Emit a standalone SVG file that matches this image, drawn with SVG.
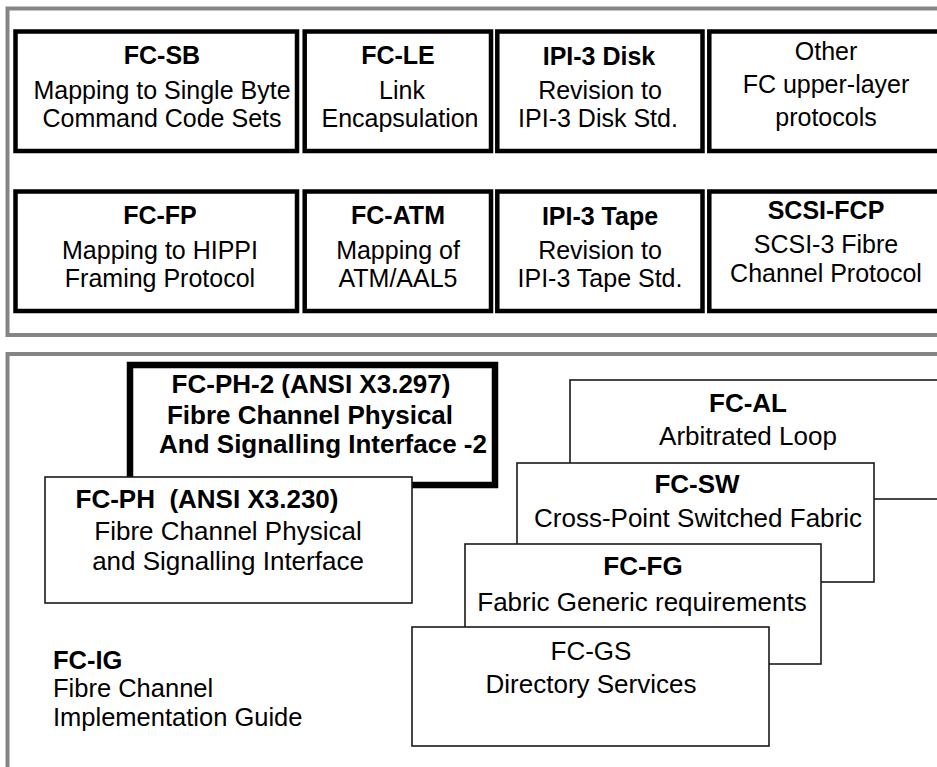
<svg xmlns="http://www.w3.org/2000/svg" width="937" height="767" viewBox="0 0 937 767">
<style>
text{font-family:"Liberation Sans",Arial,Helvetica,sans-serif;fill:#000;text-anchor:middle}
.t{font-size:25px}
.b{font-weight:bold}
.s{font-size:26px}
.g{font-size:25.5px}
.l{text-anchor:start}
.panel{fill:none;stroke:#858585;stroke-width:4}
.thick{fill:#fff;stroke:#000;stroke-width:4.5}
.thin{fill:#fff;stroke:#1a1a1a;stroke-width:1.6}
.heavy{fill:#fff;stroke:#000;stroke-width:6.5}
</style>
<rect width="937" height="767" fill="#fff"/>
<g id="upper-panel">
<rect class="panel" x="7.5" y="8.5" width="940" height="326.5"/>
</g>
<g id="lower-panel">
<rect class="panel" x="7.5" y="354" width="940" height="430"/>
</g>
<g id="fc-sb">
<rect class="thick" x="15.5" y="31.5" width="281.5" height="119.5"/>
<text class="t b" x="162" y="64">FC-SB</text>
<text class="t" x="162" y="98.5">Mapping to Single Byte</text>
<text class="t" x="162" y="126.6">Command Code Sets</text>
</g>
<g id="fc-le">
<rect class="thick" x="304.7" y="31.5" width="186.3" height="119.5"/>
<text class="t b" x="398" y="64">FC-LE</text>
<text class="t" x="402" y="98.5">Link</text>
<text class="t" x="400" y="126.6">Encapsulation</text>
</g>
<g id="ipi3-disk">
<rect class="thick" x="497.3" y="31.5" width="205.2" height="119.5"/>
<text class="t b" x="599" y="64.5">IPI-3 Disk</text>
<text class="t" x="600" y="98.5">Revision to</text>
<text class="t" x="598" y="126.6">IPI-3 Disk Std.</text>
</g>
<g id="other">
<rect class="thick" x="709.3" y="31.5" width="240" height="119.5"/>
<text class="t" x="826" y="60">Other</text>
<text class="t" x="826" y="93">FC upper-layer</text>
<text class="t" x="826" y="126">protocols</text>
</g>
<g id="fc-fp">
<rect class="thick" x="15.5" y="191.5" width="281.5" height="119.5"/>
<text class="t b" x="160" y="224">FC-FP</text>
<text class="t" x="160" y="258.5">Mapping to HIPPI</text>
<text class="t" x="160" y="286.6">Framing Protocol</text>
</g>
<g id="fc-atm">
<rect class="thick" x="304.7" y="191.5" width="186.3" height="119.5"/>
<text class="t b" x="398" y="224">FC-ATM</text>
<text class="t" x="398" y="258.5">Mapping of</text>
<text class="t" x="398" y="286.6">ATM/AAL5</text>
</g>
<g id="ipi3-tape">
<rect class="thick" x="497.3" y="191.5" width="205.2" height="119.5"/>
<text class="t b" x="600" y="224.5">IPI-3 Tape</text>
<text class="t" x="600" y="258.5">Revision to</text>
<text class="t" x="600" y="286.6">IPI-3 Tape Std.</text>
</g>
<g id="scsi-fcp">
<rect class="thick" x="709.3" y="191.5" width="240" height="119.5"/>
<text class="t b" x="826" y="219">SCSI-FCP</text>
<text class="t" x="826" y="253">SCSI-3 Fibre</text>
<text class="t" x="826" y="282">Channel Protocol</text>
</g>
<g id="fc-ph-2">
<rect class="heavy" x="130" y="365" width="365" height="120"/>
<text class="s b" x="311" y="392.5">FC-PH-2 (ANSI X3.297)</text>
<text class="s b" x="310" y="424">Fibre Channel Physical</text>
<text class="s b" x="323" y="453.2">And Signalling Interface -2</text>
</g>
<g id="fc-ph">
<rect class="thin" x="45" y="477" width="367" height="126"/>
<text class="s b" x="207" y="508" xml:space="preserve">FC-PH  (ANSI X3.230)</text>
<text class="s" x="228" y="540">Fibre Channel Physical</text>
<text class="s" x="228" y="570">and Signalling Interface</text>
</g>
<g id="fc-al">
<rect class="thin" x="570" y="380" width="400" height="119"/>
<text class="s b" x="748" y="412">FC-AL</text>
<text class="s" x="748" y="445">Arbitrated Loop</text>
</g>
<g id="fc-sw">
<rect class="thin" x="517" y="463" width="357" height="119"/>
<text class="s b" x="697" y="493">FC-SW</text>
<text class="s" x="698" y="527">Cross-Point Switched Fabric</text>
</g>
<g id="fc-fg">
<rect class="thin" x="465" y="544" width="356" height="120"/>
<text class="s b" x="643" y="575">FC-FG</text>
<text class="s" x="642" y="611">Fabric Generic requirements</text>
</g>
<g id="fc-gs">
<rect class="thin" x="412" y="627" width="357" height="119"/>
<text class="s" x="591" y="660">FC-GS</text>
<text class="s" x="591" y="693">Directory Services</text>
</g>
<g id="fc-ig">
<text class="g b l" x="53" y="668.5">FC-IG</text>
<text class="g l" x="53" y="697">Fibre Channel</text>
<text class="g l" x="53" y="725.6">Implementation Guide</text>
</g>
</svg>
